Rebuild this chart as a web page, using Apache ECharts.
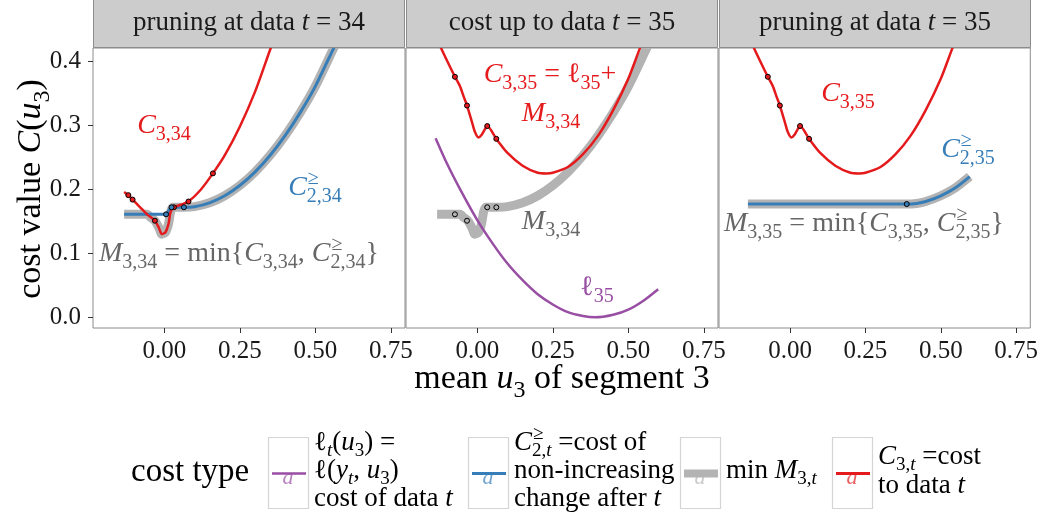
<!DOCTYPE html>
<html>
<head>
<meta charset="utf-8">
<script src="https://cdn.jsdelivr.net/npm/echarts@6/dist/echarts.min.js"></script>
<style>
html, body { margin: 0; padding: 0; background: #fff; }
#main { width: 1041px; height: 516px; }
</style>
</head>
<body>
<div id="main"></div>
<script>
// ---- values ----
var xTicks = [0, 0.25, 0.5, 0.75];
var yTicks = [0, 0.1, 0.2, 0.3, 0.4];

// panel 1 (t = 34): C_{3,34} red
var c334X = [-0.133, -0.119, -0.105, -0.08, -0.057, -0.031, -0.018, -0.008, 0.004, 0.014, 0.021, 0.032, 0.055, 0.080, 0.12, 0.161, 0.20, 0.25, 0.30, 0.351, 0.36];
var c334Y = [0.196, 0.191, 0.184, 0.172, 0.161, 0.151, 0.140, 0.130, 0.133, 0.146, 0.165, 0.172, 0.176, 0.181, 0.199, 0.225, 0.253, 0.298, 0.352, 0.419, 0.43];
// C^>=_{2,34} blue
var c234X = [-0.133, 0.006, 0.015, 0.024, 0.065, 0.10, 0.15, 0.20, 0.25, 0.30, 0.35, 0.40, 0.45, 0.50, 0.557, 0.57];
var c234Y = [0.161, 0.161, 0.167, 0.172, 0.172, 0.173, 0.179, 0.190, 0.206, 0.227, 0.253, 0.284, 0.320, 0.361, 0.417, 0.43];
// M_{3,34} grey (min)
var m334X = [-0.133, -0.057, -0.045, -0.031, -0.018, -0.008, 0.004, 0.014, 0.021, 0.028, 0.065, 0.10, 0.15, 0.20, 0.25, 0.30, 0.35, 0.40, 0.45, 0.50, 0.557, 0.57];
var m334Y = [0.161, 0.161, 0.156, 0.151, 0.140, 0.130, 0.133, 0.146, 0.165, 0.172, 0.172, 0.173, 0.179, 0.190, 0.206, 0.227, 0.253, 0.284, 0.320, 0.361, 0.417, 0.43];
// panel 2: loss of data 35, purple
var l35X = [-0.138, -0.10, -0.05, 0, 0.05, 0.10, 0.15, 0.20, 0.25, 0.30, 0.35, 0.39, 0.45, 0.50, 0.55, 0.599];
var l35Y = [0.280, 0.240, 0.194, 0.152, 0.116, 0.084, 0.058, 0.036, 0.020, 0.008, 0.002, 0.000, 0.004, 0.012, 0.026, 0.044];
// C_{3,35} red (panels 2 and 3)
var c335X = [-0.125, -0.10, -0.074, -0.057, -0.045, -0.034, -0.018, -0.008, 0.004, 0.014, 0.024, 0.033, 0.063, 0.10, 0.15, 0.20, 0.229, 0.25, 0.30, 0.35, 0.40, 0.45, 0.50, 0.538, 0.55];
var c335Y = [0.426, 0.401, 0.376, 0.361, 0.345, 0.331, 0.306, 0.290, 0.281, 0.285, 0.293, 0.299, 0.279, 0.257, 0.237, 0.226, 0.225, 0.226, 0.235, 0.255, 0.284, 0.324, 0.373, 0.42, 0.433];
// panel 3: C^>=_{2,35} blue = M_{3,35}
var c235X = [-0.140, 0.387, 0.42, 0.45, 0.50, 0.55, 0.596];
var c235Y = [0.177, 0.177, 0.178, 0.181, 0.190, 0.203, 0.220];

// data points
var p1RedX = [-0.119, -0.105, -0.031, 0.032, 0.080, 0.161];
var p1RedY = [0.191, 0.184, 0.151, 0.172, 0.181, 0.225];
var p1BlueX = [0.006, 0.024, 0.065];
var p1BlueY = [0.161, 0.172, 0.172];
var p2GreyX = [-0.074, -0.034, 0.033, 0.063];
var p2GreyY = [0.161, 0.151, 0.172, 0.172];
var p2RedX = [-0.074, -0.034, 0.033, 0.063];
var p2RedY = [0.376, 0.331, 0.299, 0.279];
var p3BlueX = [0.387];
var p3BlueY = [0.177];

var panelTitles = [
  [{r: 'pruning at data '}, {m: 't'}, {r: ' = 34'}],
  [{r: 'cost up to data '}, {m: 't'}, {r: ' = 35'}],
  [{r: 'pruning at data '}, {m: 't'}, {r: ' = 35'}]
];

var RED = '#E41A1C', BLUE = '#377EB8', PURPLE = '#984EA3', GREY = '#b3b3b3', DGREY = '#666666';
var FONT = '"Liberation Serif", "DejaVu Serif", serif';

function zip(xs, ys) { return xs.map(function (x, i) { return [x, ys[i]]; }); }

// ---- tiny math text layout (italic letters, sub/superscripts) ----
var ctx2d = document.createElement('canvas').getContext('2d');
function fnt(size, it) { return (it ? 'italic ' : '') + size + 'px ' + FONT; }
function tw(s, size, it) { ctx2d.font = fnt(size, it); return ctx2d.measureText(s).width; }

function runs(s, math) {
  if (!math) return [[s, false]];
  var out = [];
  for (var i = 0; i < s.length; i++) {
    var it = /[A-Za-z]/.test(s[i]);
    if (out.length && out[out.length - 1][1] === it) out[out.length - 1][0] += s[i];
    else out.push([s[i], it]);
  }
  return out;
}

function layout(tokens, size) {
  var x = 0, pieces = [];
  function put(str, math, sz, dy) {
    var x0 = x;
    runs(str, math).forEach(function (r) {
      pieces.push({s: r[0], it: r[1], x: x, dy: dy, size: sz});
      x += tw(r[0], sz, r[1]);
    });
    return x - x0;
  }
  tokens.forEach(function (tk) {
    if (tk.r !== undefined) { put(tk.r, false, size, 0); return; }
    put(tk.m, true, size, 0);
    var x0 = x, ss = Math.round(size * 0.7), w1 = 0, w2 = 0;
    if (tk.sb) { w1 = put(tk.sb, true, ss, size * 0.22); x = x0; }
    if (tk.sp) { x = x0 + 1; w2 = put(tk.sp, true, ss, -size * 0.42) + 1; x = x0; }
    x = x0 + Math.max(w1, w2);
  });
  return {pieces: pieces, width: x};
}

function textEl(p, x, y, color) {
  return {
    type: 'text', x: x, y: y, silent: true, z: 100,
    style: {text: p.s, font: fnt(p.size, p.it), fill: color,
      align: 'left', verticalAlign: 'middle', textAlign: 'left', textVerticalAlign: 'middle'}
  };
}

// ax = anchor x, base = baseline y
function mathEls(tokens, size, color, ax, base, align) {
  var L = layout(tokens, size);
  var x0 = align === 'center' ? ax - L.width / 2 : (align === 'right' ? ax - L.width : ax);
  return L.pieces.map(function (p) {
    return textEl(p, x0 + p.x, base + p.dy - 0.34 * p.size, color);
  });
}

function mathGroup(tokens, size, color, cx, cy, rot) {
  var L = layout(tokens, size);
  return {
    type: 'group', x: cx, y: cy, rotation: rot, silent: true,
    children: L.pieces.map(function (p) {
      return textEl(p, -L.width / 2 + p.x, p.dy - 0.34 * p.size, color);
    })
  };
}

// ---- panels ----
var grids = [
  {left: 93, top: 48, width: 312, height: 280},
  {left: 406, top: 48, width: 312, height: 280},
  {left: 719, top: 48, width: 312, height: 280}
];
grids.forEach(function (g) { g.show = true; g.borderColor = '#8c8c8c'; g.borderWidth = 1; g.backgroundColor = '#fff'; });

var xAxes = [0, 1, 2].map(function (i) {
  return {
    type: 'value', gridIndex: i, min: -0.236, max: 0.797, position: 'bottom',
    axisLine: {show: false, onZero: false},
    splitLine: {show: false},
    axisTick: {show: true, length: 5, customValues: xTicks, lineStyle: {color: '#333'}},
    axisLabel: {customValues: xTicks, margin: 11, fontFamily: FONT, fontSize: 25, color: '#1a1a1a',
      formatter: function (v) { return v.toFixed(2); }}
  };
});
var yAxes = [0, 1, 2].map(function (i) {
  return {
    type: 'value', gridIndex: i, min: -0.0167, max: 0.421, position: 'left',
    axisLine: {show: false, onZero: false},
    splitLine: {show: false},
    axisTick: {show: i === 0, length: 5, customValues: yTicks, lineStyle: {color: '#333'}},
    axisLabel: {show: i === 0, customValues: yTicks, margin: 12, fontFamily: FONT, fontSize: 25, color: '#1a1a1a',
      formatter: function (v) { return v.toFixed(1); }}
  };
});

function line(gi, xs, ys, color, width, z) {
  return {type: 'line', xAxisIndex: gi, yAxisIndex: gi, data: zip(xs, ys), symbol: 'none', showSymbol: false,
    smooth: 0.25, clip: true, silent: true, z: z, lineStyle: {color: color, width: width, cap: 'butt'}};
}
function dots(gi, xs, ys, fill) {
  return {type: 'scatter', xAxisIndex: gi, yAxisIndex: gi, data: zip(xs, ys), symbolSize: 5, silent: true, z: 10,
    itemStyle: {color: fill, borderColor: '#000', borderWidth: 1, opacity: 1}};
}

var series = [
  line(0, m334X, m334Y, GREY, 9, 2),
  line(0, c234X, c234Y, BLUE, 3, 3),
  line(0, c334X, c334Y, RED, 2.5, 4),
  dots(0, p1RedX, p1RedY, RED),
  dots(0, p1BlueX, p1BlueY, BLUE),

  line(1, m334X, m334Y, GREY, 9, 2),
  line(1, l35X, l35Y, PURPLE, 2.5, 3),
  line(1, c335X, c335Y, RED, 2.5, 4),
  dots(1, p2GreyX, p2GreyY, 'rgba(0,0,0,0)'),
  dots(1, p2RedX, p2RedY, RED),

  line(2, c235X, c235Y, GREY, 9, 2),
  line(2, c235X, c235Y, BLUE, 3, 3),
  line(2, c335X, c335Y, RED, 2.5, 4),
  dots(2, p2RedX, p2RedY, RED),
  dots(2, p3BlueX, p3BlueY, BLUE)
];

// ---- decorations: strips, annotations, axis titles, legend ----
var els = [];
grids.forEach(function (g, i) {
  els.push({type: 'rect', silent: true, z: 50,
    shape: {x: g.left + 0.5, y: -1, width: g.width - 1, height: 48.5},
    style: {fill: '#cccccc', stroke: '#8c8c8c', lineWidth: 1}});
  els = els.concat(mathEls(panelTitles[i], 27, '#1a1a1a', g.left + g.width / 2, 32, 'center'));
});

var ann = [
  [[{m: 'C', sb: '3,34'}], RED, 164, 135],
  [[{m: 'C', sb: '2,34', sp: '\u2265'}], BLUE, 315, 197],
  [[{m: 'M', sb: '3,34'}, {r: ' = min{'}, {m: 'C', sb: '3,34'}, {r: ', '}, {m: 'C', sb: '2,34', sp: '\u2265'}, {r: '}'}], DGREY, 239, 263],
  [[{m: 'C', sb: '3,35'}, {r: ' = '}, {m: '\u2113', sb: '35'}, {r: '+'}], RED, 550, 84],
  [[{m: 'M', sb: '3,34'}], RED, 551, 123],
  [[{m: 'M', sb: '3,34'}], DGREY, 551, 231],
  [[{m: '\u2113', sb: '35'}], PURPLE, 597, 297],
  [[{m: 'C', sb: '3,35'}], RED, 848, 103],
  [[{m: 'C', sb: '2,35', sp: '\u2265'}], BLUE, 968, 159],
  [[{m: 'M', sb: '3,35'}, {r: ' = min{'}, {m: 'C', sb: '3,35'}, {r: ', '}, {m: 'C', sb: '2,35', sp: '\u2265'}, {r: '}'}], DGREY, 864, 233]
];
ann.forEach(function (a) { els = els.concat(mathEls(a[0], 28, a[1], a[2], a[3], 'center')); });

// axis titles
els = els.concat(mathEls([{r: 'mean '}, {m: 'u', sb: '3'}, {r: ' of segment 3'}], 34, '#000', 562, 391, 'center'));
els.push(mathGroup([{r: 'cost value '}, {m: 'C'}, {r: '('}, {m: 'u', sb: '3'}, {r: ')'}], 34, '#000', 43, 189, Math.PI / 2));

// legend
els = els.concat(mathEls([{r: 'cost type'}], 33, '#000', 131, 484, 'left'));
var keys = [
  {x: 268, color: PURPLE, w: 2.5, lines: [
    [[{m: '\u2113', sb: 't'}, {r: '('}, {m: 'u', sb: '3'}, {r: ') ='}], 452],
    [[{m: '\u2113'}, {r: '('}, {m: 'y', sb: 't'}, {r: ', '}, {m: 'u', sb: '3'}, {r: ')'}], 480],
    [[{r: 'cost of data '}, {m: 't'}], 508]]},
  {x: 468, color: BLUE, w: 3, lines: [
    [[{m: 'C', sb: '2,t', sp: '\u2265'}, {r: ' =cost of'}], 452],
    [[{r: 'non-increasing'}], 480],
    [[{r: 'change after '}, {m: 't'}], 508]]},
  {x: 680, color: GREY, w: 8, lines: [
    [[{r: 'min '}, {m: 'M', sb: '3,t'}], 480]]},
  {x: 832, color: RED, w: 3, lines: [
    [[{m: 'C', sb: '3,t'}, {r: ' =cost'}], 466],
    [[{r: 'to data '}, {m: 't'}], 495]]}
];
keys.forEach(function (k) {
  var bw = 40;
  els.push({type: 'rect', silent: true, shape: {x: k.x + 0.5, y: 437.5, width: bw, height: 71},
    style: {fill: '#fff', stroke: '#d4d4d4', lineWidth: 1.2}});
  els.push({type: 'text', silent: true, x: k.x + bw / 2, y: 478, z: 60,
    style: {text: 'a', font: fnt(22, true), fill: k.color, opacity: 0.7,
      align: 'center', verticalAlign: 'middle', textAlign: 'center', textVerticalAlign: 'middle'}});
  els.push({type: 'line', silent: true, z: 61, shape: {x1: k.x + 4, y1: 473.5, x2: k.x + bw - 2, y2: 473.5},
    style: {stroke: k.color, lineWidth: k.w}});
  k.lines.forEach(function (ln) {
    els = els.concat(mathEls(ln[0], 27, '#000', k.x + bw + 6, ln[1], 'left'));
  });
});

var chart = echarts.init(document.getElementById('main'), null, {renderer: 'canvas'});
chart.setOption({
  animation: false,
  backgroundColor: '#fff',
  textStyle: {fontFamily: FONT},
  grid: grids,
  xAxis: xAxes,
  yAxis: yAxes,
  series: series,
  graphic: {elements: els}
});
</script>
</body>
</html>
